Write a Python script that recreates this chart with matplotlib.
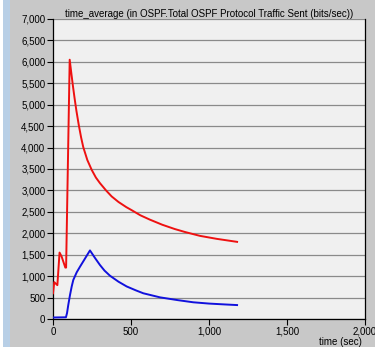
import matplotlib
matplotlib.use('Agg')
import matplotlib.pyplot as plt
from matplotlib.ticker import FuncFormatter
from matplotlib.patches import Rectangle

plt.rcParams['font.family'] = ['Liberation Sans', 'DejaVu Sans']
plt.rcParams['font.size'] = 7

###  DATA  ###
title = 'time_average (in OSPF.Total OSPF Protocol Traffic Sent (bits/sec))'

red_t = [0, 8, 22, 28, 42, 55, 79, 84, 107, 118, 128, 138, 150, 165, 180, 194, 220,
         248, 275, 301, 340, 376, 420, 470, 504, 560, 620, 700, 780, 846, 942, 1050, 1180]
red_v = [600, 860, 810, 790, 1550, 1460, 1200, 1200, 6050, 5720, 5430, 5160, 4860,
         4530, 4240, 4010, 3710, 3480, 3300, 3170, 3000, 2860, 2730, 2610, 2540, 2420,
         2320, 2200, 2100, 2030, 1940, 1870, 1800]

blue_t = [0, 83, 90, 98, 109, 120, 130, 152, 173, 200, 237, 270, 301, 330, 365, 420,
          472, 530, 579, 686, 800, 899, 1000, 1100, 1180]
blue_v = [35, 40, 140, 330, 560, 760, 910, 1090, 1220, 1380, 1600, 1420, 1260, 1130,
          1010, 870, 760, 670, 600, 505, 440, 390, 360, 340, 325]

###  PLOT  ###
fig = plt.figure(figsize=(3.75, 3.47), dpi=100, facecolor='#c8c8c8')

# window border strip on the left
fig.patches.append(Rectangle((0, 0), 3/375, 1, transform=fig.transFigure,
                             facecolor='white', edgecolor='none', zorder=0))
fig.patches.append(Rectangle((3/375, 0), 7/375, 1, transform=fig.transFigure,
                             facecolor='#b8cfe6', edgecolor='none', zorder=0))

ax = fig.add_axes([53/375, 28/347, 312/375, 300/347])
ax.set_facecolor('#f0f0f0')

ax.plot(red_t, red_v, color='#ee1111', lw=1.4, zorder=3)
ax.plot(blue_t, blue_v, color='#1111dd', lw=1.4, zorder=3)

ax.set_xlim(0, 2000)
ax.set_ylim(0, 7000)
ax.set_xticks([0, 500, 1000, 1500, 2000])
ax.set_yticks(range(0, 7001, 500))
fmt = FuncFormatter(lambda v, p: '{:,}'.format(int(v)))
ax.xaxis.set_major_formatter(fmt)
ax.yaxis.set_major_formatter(fmt)
ax.yaxis.grid(True, color='#8a8a8a', lw=0.9)
ax.set_axisbelow(True)
ax.tick_params(direction='out', length=4, width=0.8, labelsize=7, pad=1.5)

for s in ['left', 'bottom', 'right']:
    ax.spines[s].set_color('black')
    ax.spines[s].set_linewidth(0.9)
ax.spines['top'].set_visible(False)

ax.set_title(title, fontsize=7, pad=1.5)
fig.text(340/375, 1 - 337/347, 'time (sec)', ha='center', va='top', fontsize=7)

fig.savefig('out.png', dpi=100, facecolor=fig.get_facecolor())
